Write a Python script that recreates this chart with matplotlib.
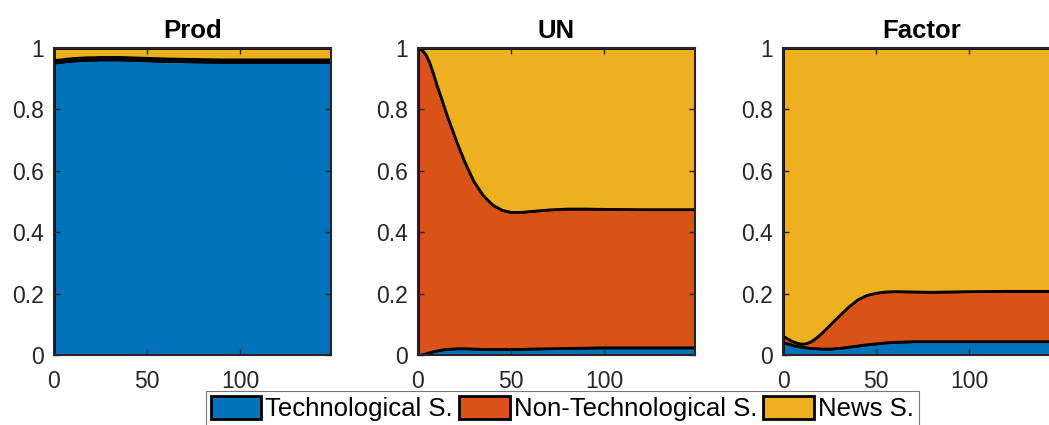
import numpy as np
import matplotlib
matplotlib.use('Agg')
import matplotlib.pyplot as plt

plt.rcParams['font.family'] = ['Liberation Sans', 'DejaVu Sans']

# horizon (periods)
periods = [0, 2, 4, 6, 8, 10, 12, 15, 18, 21, 25, 30, 35, 40, 45, 50, 55, 60,
           70, 80, 90, 100, 120, 149]

# share of variance explained, per panel
prod_tech = [0.953, 0.954, 0.955, 0.957, 0.958, 0.959, 0.960, 0.961, 0.962, 0.962,
             0.963, 0.963, 0.963, 0.962, 0.961, 0.960, 0.959, 0.958,
             0.957, 0.956, 0.955, 0.955, 0.955, 0.955]
prod_nontech = [0.008, 0.008, 0.008, 0.008, 0.008, 0.008, 0.008, 0.008, 0.008, 0.008,
                0.008, 0.008, 0.008, 0.008, 0.008, 0.008, 0.008, 0.008,
                0.008, 0.008, 0.008, 0.008, 0.008, 0.008]

un_tech = [0.0, 0.002, 0.005, 0.009, 0.012, 0.015, 0.017, 0.020, 0.021, 0.022,
           0.022, 0.021, 0.020, 0.020, 0.020, 0.020, 0.020, 0.021,
           0.022, 0.023, 0.024, 0.025, 0.025, 0.025]
un_nontech = [1.0, 0.993, 0.975, 0.946, 0.908, 0.865, 0.828, 0.770, 0.719, 0.668,
              0.608, 0.544, 0.500, 0.470, 0.453, 0.446, 0.446, 0.448,
              0.452, 0.454, 0.453, 0.451, 0.450, 0.450]

factor_tech = [0.042, 0.038, 0.035, 0.031, 0.029, 0.027, 0.025, 0.023, 0.022, 0.021,
               0.021, 0.023, 0.027, 0.031, 0.035, 0.038, 0.041, 0.043,
               0.045, 0.045, 0.045, 0.045, 0.045, 0.045]
factor_nontech = [0.020, 0.017, 0.013, 0.012, 0.010, 0.010, 0.013, 0.022, 0.036, 0.053,
                  0.077, 0.105, 0.130, 0.150, 0.161, 0.165, 0.166, 0.165,
                  0.162, 0.161, 0.162, 0.163, 0.164, 0.164]

titles = ['Prod', 'UN', 'Factor']
labels = ['Technological S.', 'Non-Technological S.', 'News S.']
colors = ['#0072BD', '#D95319', '#EDB120']

panels = [(prod_tech, prod_nontech), (un_tech, un_nontech), (factor_tech, factor_nontech)]
lefts = [54 / 1049, 418 / 1049, 783 / 1049]

fig = plt.figure(figsize=(10.49, 4.25), dpi=100)

for left, title, (tech, nontech) in zip(lefts, titles, panels):
    ax = fig.add_axes([left, 70 / 425, 277 / 1049, 307 / 425])
    tech = np.array(tech)
    nontech = np.array(nontech)
    news = 1 - tech - nontech
    polys = ax.stackplot(periods, tech, nontech, news, colors=colors,
                         edgecolor='black', linewidth=2)
    ax.set_xlim(0, 149)
    ax.set_ylim(0, 1)
    ax.set_xticks([0, 50, 100])
    ax.set_yticks([0, 0.2, 0.4, 0.6, 0.8, 1])
    ax.set_yticklabels(['0', '0.2', '0.4', '0.6', '0.8', '1'])
    ax.tick_params(direction='in', top=True, right=True, length=4, width=1,
                   labelsize=16.5, labelcolor='#262626', color='#262626')
    ax.tick_params(axis='x', pad=11)
    ax.tick_params(axis='y', pad=7)
    for s in ax.spines.values():
        s.set_linewidth(1.5)
        s.set_color('#262626')
    ax.set_title(title, fontsize=18.5, fontweight='bold', pad=7)

leg = fig.legend(polys, labels, loc='upper left', bbox_to_anchor=(206 / 1049, 34 / 425),
                 bbox_transform=fig.transFigure, ncol=3, fontsize=18.5, frameon=True,
                 fancybox=False, edgecolor='#555555', borderpad=0.2, borderaxespad=0,
                 handlelength=1.95, handleheight=1.0, handletextpad=0.16,
                 columnspacing=0.25)
leg.get_frame().set_linewidth(0.8)

fig.savefig('out.png', dpi=100)
